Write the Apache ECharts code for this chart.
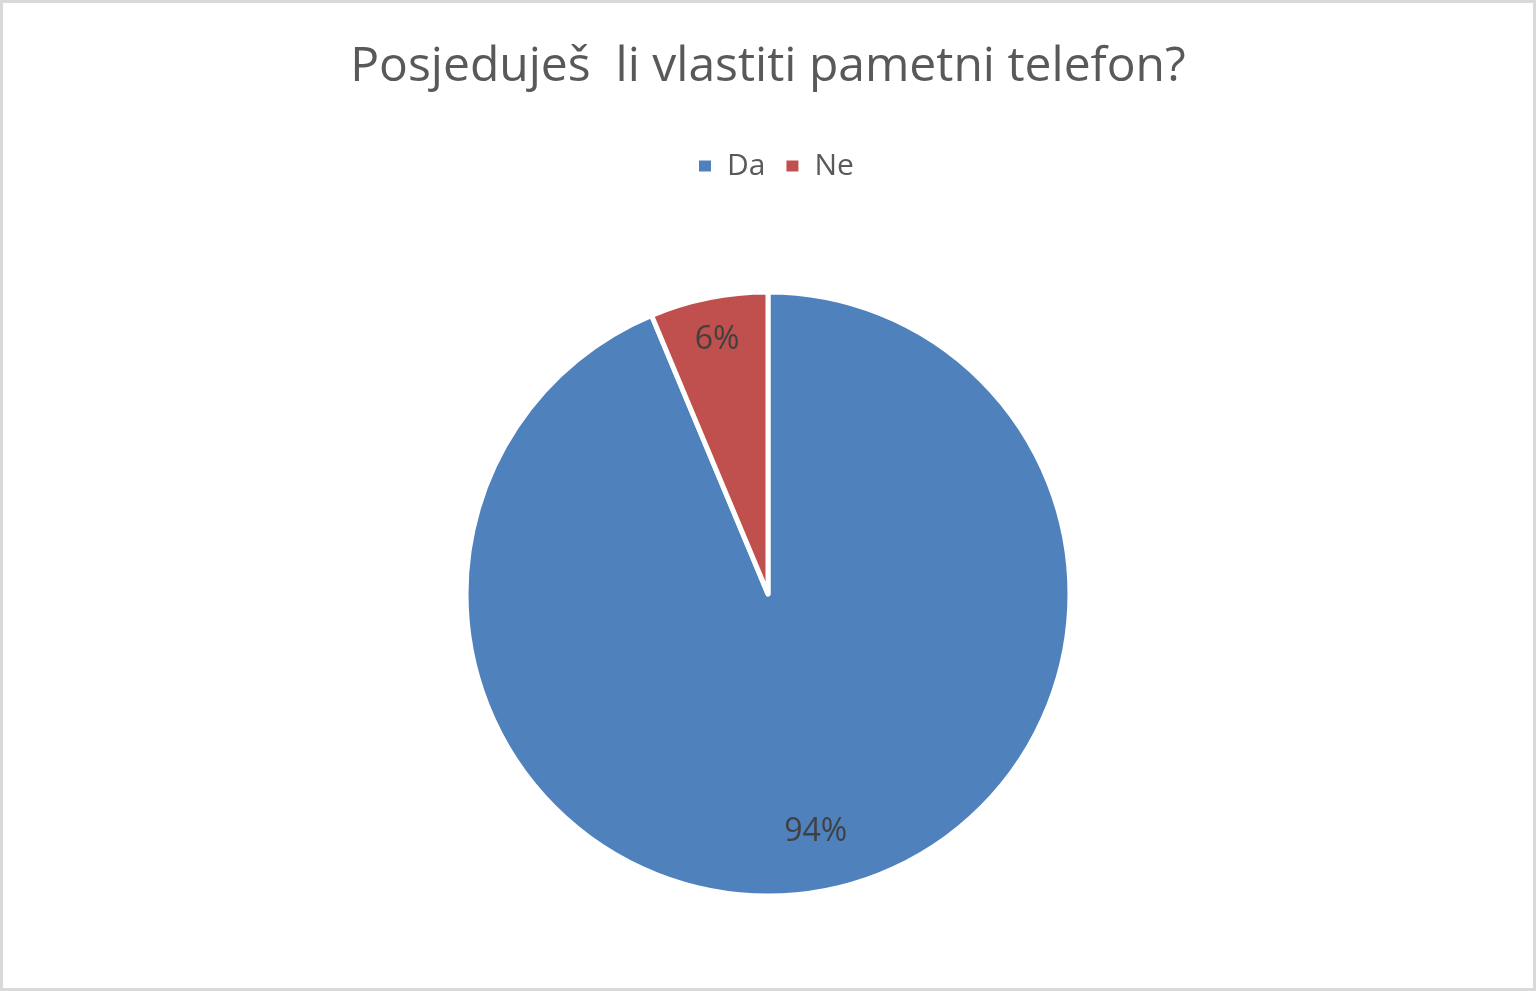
<!DOCTYPE html>
<html>
<head>
<meta charset="utf-8">
<script src="https://cdn.jsdelivr.net/npm/echarts@6/dist/echarts.min.js"></script>
<style>
html,body{margin:0;padding:0;background:#fff;}
#chart{position:absolute;left:0;top:0;width:1536px;height:991px;}
#frame{position:absolute;left:0;top:0;width:1536px;height:991px;box-sizing:border-box;border:3px solid #d9d9d9;pointer-events:none;}
</style>
</head>
<body>
<div id="chart"></div>
<div id="frame"></div>
<script>
const titleText = 'Posjeduješ  li vlastiti pametni telefon?';
const categories = ['Da', 'Ne'];
const values = [93.7, 6.3];
const colors = ['#4F81BD', '#C0504D'];

const data = categories.map((c, i) => ({ name: c, value: values[i], itemStyle: { color: colors[i] } }));
const font = '"Open Sans", Lato, sans-serif';

function labelSeries(showName, inner) {
  return {
    type: 'pie',
    center: [768, 594],
    radius: [inner, 300],
    startAngle: 90,
    clockwise: true,
    silent: true,
    data: data.map(d => ({
      name: d.name, value: d.value,
      itemStyle: { color: 'rgba(0,0,0,0)' },
      label: { show: d.name === showName }
    })),
    label: {
      position: 'inside',
      formatter: p => Math.round(p.percent) + '%',
      fontFamily: font,
      fontSize: 32,
      color: '#404040'
    },
    labelLine: { show: false },
    emphasis: { disabled: true },
    legendHoverLink: false
  };
}

const chart = echarts.init(document.getElementById('chart'), null, { renderer: 'canvas' });
chart.setOption({
  backgroundColor: '#ffffff',
  animation: false,
  title: {
    text: titleText,
    left: 'center',
    top: 38,
    textStyle: { fontFamily: font, fontSize: 48, fontWeight: 'normal', color: '#595959' }
  },
  legend: {
    data: categories,
    top: 151,
    left: 697,
    padding: 0,
    icon: 'rect',
    itemWidth: 14,
    itemHeight: 13,
    itemGap: 19,
    textStyle: { fontFamily: font, fontSize: 30, color: '#595959', padding: [0, 0, 0, 10] }
  },
  series: [
    {
      type: 'pie',
      center: [768, 594],
      radius: [0, 302],
      startAngle: 90,
      clockwise: true,
      data: data,
      label: { show: false },
      labelLine: { show: false },
      itemStyle: { borderColor: '#ffffff', borderWidth: 5 },
      emphasis: { disabled: true }
    },
    labelSeries('Da', 180),
    labelSeries('Ne', 212)
  ]
});
</script>
</body>
</html>
